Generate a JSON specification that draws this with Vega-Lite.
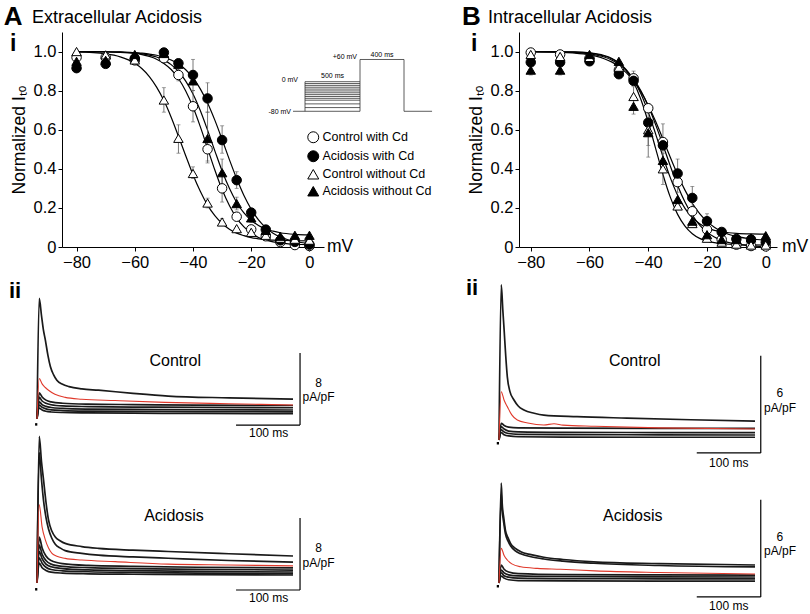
{
  "$schema": "https://vega.github.io/schema/vega-lite/v6.json",
  "padding": {"left": 3, "top": 3, "right": 0, "bottom": 0},
  "config": {
    "font": "Liberation Sans",
    "view": {"stroke": null},
    "axis": {"domainColor": "black", "tickColor": "black", "labelColor": "black", "titleColor": "black", "domainWidth": 1, "tickWidth": 1, "grid": false, "labelFont": "Liberation Sans", "titleFont": "Liberation Sans"},
    "text": {"color": "black", "font": "Liberation Sans"}
  },
  "datasets": {
    "curvesA": [
      {"v":-80,"c1":1.0,"c2":1.0,"c3":0.998,"c4":1.0},
      {"v":-70,"c1":0.998,"c2":0.999,"c3":0.988,"c4":0.999},
      {"v":-65,"c1":0.996,"c2":0.998,"c3":0.973,"c4":0.997},
      {"v":-60,"c1":0.990,"c2":0.994,"c3":0.940,"c4":0.993},
      {"v":-57.5,"c1":0.984,"c2":0.992,"c3":0.912,"c4":0.988},
      {"v":-55,"c1":0.975,"c2":0.987,"c3":0.872,"c4":0.982},
      {"v":-52.5,"c1":0.961,"c2":0.981,"c3":0.818,"c4":0.972},
      {"v":-50,"c1":0.939,"c2":0.971,"c3":0.749,"c4":0.956},
      {"v":-47.5,"c1":0.908,"c2":0.957,"c3":0.664,"c4":0.933},
      {"v":-45,"c1":0.862,"c2":0.937,"c3":0.567,"c4":0.898},
      {"v":-42.5,"c1":0.798,"c2":0.907,"c3":0.467,"c4":0.849},
      {"v":-40,"c1":0.716,"c2":0.866,"c3":0.370,"c4":0.783},
      {"v":-37.5,"c1":0.616,"c2":0.809,"c3":0.285,"c4":0.698},
      {"v":-35,"c1":0.505,"c2":0.737,"c3":0.214,"c4":0.598},
      {"v":-32.5,"c1":0.394,"c2":0.649,"c3":0.160,"c4":0.492},
      {"v":-30,"c1":0.294,"c2":0.550,"c3":0.120,"c4":0.389},
      {"v":-27.5,"c1":0.212,"c2":0.447,"c3":0.091,"c4":0.300},
      {"v":-25,"c1":0.148,"c2":0.350,"c3":0.071,"c4":0.228},
      {"v":-22.5,"c1":0.103,"c2":0.263,"c3":0.058,"c4":0.174},
      {"v":-20,"c1":0.071,"c2":0.193,"c3":0.048,"c4":0.136},
      {"v":-17.5,"c1":0.049,"c2":0.139,"c3":0.042,"c4":0.110},
      {"v":-15,"c1":0.035,"c2":0.099,"c3":0.038,"c4":0.092},
      {"v":-12.5,"c1":0.026,"c2":0.070,"c3":0.035,"c4":0.081},
      {"v":-10,"c1":0.020,"c2":0.051,"c3":0.034,"c4":0.073},
      {"v":-5,"c1":0.014,"c2":0.028,"c3":0.032,"c4":0.065},
      {"v":0,"c1":0.012,"c2":0.018,"c3":0.031,"c4":0.062}
    ],
    "curvesB": [
      {"v":-80,"c1":1.0,"c2":1.0,"c3":1.0,"c4":1.0},
      {"v":-70,"c1":0.998,"c2":0.996,"c3":0.999,"c4":0.999},
      {"v":-65,"c1":0.995,"c2":0.992,"c3":0.998,"c4":0.997},
      {"v":-60,"c1":0.988,"c2":0.983,"c3":0.993,"c4":0.992},
      {"v":-57.5,"c1":0.981,"c2":0.975,"c3":0.988,"c4":0.986},
      {"v":-55,"c1":0.972,"c2":0.963,"c3":0.980,"c4":0.977},
      {"v":-52.5,"c1":0.957,"c2":0.947,"c3":0.966,"c4":0.963},
      {"v":-50,"c1":0.935,"c2":0.924,"c3":0.942,"c4":0.941},
      {"v":-47.5,"c1":0.904,"c2":0.892,"c3":0.903,"c4":0.907},
      {"v":-45,"c1":0.859,"c2":0.849,"c3":0.843,"c4":0.856},
      {"v":-42.5,"c1":0.799,"c2":0.794,"c3":0.755,"c4":0.784},
      {"v":-40,"c1":0.721,"c2":0.724,"c3":0.639,"c4":0.690},
      {"v":-37.5,"c1":0.626,"c2":0.643,"c3":0.505,"c4":0.579},
      {"v":-35,"c1":0.522,"c2":0.552,"c3":0.371,"c4":0.463},
      {"v":-32.5,"c1":0.415,"c2":0.459,"c3":0.255,"c4":0.355},
      {"v":-30,"c1":0.315,"c2":0.370,"c3":0.167,"c4":0.265},
      {"v":-27.5,"c1":0.230,"c2":0.291,"c3":0.107,"c4":0.198},
      {"v":-25,"c1":0.163,"c2":0.224,"c3":0.068,"c4":0.150},
      {"v":-22.5,"c1":0.112,"c2":0.171,"c3":0.044,"c4":0.119},
      {"v":-20,"c1":0.076,"c2":0.131,"c3":0.030,"c4":0.098},
      {"v":-17.5,"c1":0.051,"c2":0.101,"c3":0.022,"c4":0.085},
      {"v":-15,"c1":0.034,"c2":0.080,"c3":0.017,"c4":0.078},
      {"v":-12.5,"c1":0.022,"c2":0.064,"c3":0.014,"c4":0.073},
      {"v":-10,"c1":0.014,"c2":0.054,"c3":0.012,"c4":0.070},
      {"v":-5,"c1":0.006,"c2":0.041,"c3":0.011,"c4":0.067},
      {"v":0,"c1":0.003,"c2":0.035,"c3":0.010,"c4":0.066}
    ],
    "ptsA": [
      {"v":-80,"Control with Cd":0.97,"Acidosis with Cd":0.915,"Control without Cd":1.0,"Acidosis without Cd":0.95},
      {"v":-70,"Control with Cd":0.97,"Acidosis with Cd":0.937,"Control without Cd":0.983,"Acidosis without Cd":0.955},
      {"v":-60,"Control with Cd":0.955,"Acidosis with Cd":0.965,"Control without Cd":0.957,"Acidosis without Cd":0.985},
      {"v":-50,"Control with Cd":0.966,"Acidosis with Cd":0.995,"Control without Cd":0.752,"Acidosis without Cd":0.99},
      {"v":-45,"Control with Cd":0.88,"Acidosis with Cd":0.94,"Control without Cd":0.556,"Acidosis without Cd":0.935},
      {"v":-40,"Control with Cd":0.72,"Acidosis with Cd":0.88,"Control without Cd":0.376,"Acidosis without Cd":0.85},
      {"v":-35,"Control with Cd":0.50,"Acidosis with Cd":0.76,"Control without Cd":0.225,"Acidosis without Cd":0.555},
      {"v":-30,"Control with Cd":0.30,"Acidosis with Cd":0.547,"Control without Cd":0.128,"Acidosis without Cd":0.38},
      {"v":-25,"Control with Cd":0.155,"Acidosis with Cd":0.342,"Control without Cd":0.094,"Acidosis without Cd":0.222},
      {"v":-20,"Control with Cd":0.09,"Acidosis with Cd":0.176,"Control without Cd":0.075,"Acidosis without Cd":0.149},
      {"v":-15,"Control with Cd":0.055,"Acidosis with Cd":0.089,"Control without Cd":0.06,"Acidosis without Cd":0.085},
      {"v":-10,"Control with Cd":0.025,"Acidosis with Cd":0.034,"Control without Cd":0.045,"Acidosis without Cd":0.055},
      {"v":-5,"Control with Cd":0.01,"Acidosis with Cd":0.026,"Control without Cd":0.04,"Acidosis without Cd":0.06},
      {"v":0,"Control with Cd":0.005,"Acidosis with Cd":0.012,"Control without Cd":0.035,"Acidosis without Cd":0.06}
    ],
    "ptsB": [
      {"v":-80,"Control with Cd":0.995,"Acidosis with Cd":0.945,"Control without Cd":0.985,"Acidosis without Cd":0.905},
      {"v":-70,"Control with Cd":0.985,"Acidosis with Cd":0.945,"Control without Cd":0.975,"Acidosis without Cd":0.905},
      {"v":-60,"Control with Cd":0.965,"Acidosis with Cd":0.95,"Control without Cd":0.97,"Acidosis without Cd":0.985},
      {"v":-50,"Control with Cd":0.905,"Acidosis with Cd":0.884,"Control without Cd":0.92,"Acidosis without Cd":0.95},
      {"v":-45,"Control with Cd":0.863,"Acidosis with Cd":0.85,"Control without Cd":0.77,"Acidosis without Cd":0.72},
      {"v":-40,"Control with Cd":0.71,"Acidosis with Cd":0.636,"Control without Cd":0.60,"Acidosis without Cd":0.585},
      {"v":-35,"Control with Cd":0.537,"Acidosis with Cd":0.52,"Control without Cd":0.40,"Acidosis without Cd":0.443},
      {"v":-30,"Control with Cd":0.332,"Acidosis with Cd":0.376,"Control without Cd":0.21,"Acidosis without Cd":0.243},
      {"v":-25,"Control with Cd":0.183,"Acidosis with Cd":0.251,"Control without Cd":0.12,"Acidosis without Cd":0.132},
      {"v":-20,"Control with Cd":0.089,"Acidosis with Cd":0.132,"Control without Cd":0.045,"Acidosis without Cd":0.063},
      {"v":-15,"Control with Cd":0.038,"Acidosis with Cd":0.077,"Control without Cd":0.025,"Acidosis without Cd":0.038},
      {"v":-10,"Control with Cd":0.012,"Acidosis with Cd":0.041,"Control without Cd":0.015,"Acidosis without Cd":0.038},
      {"v":-5,"Control with Cd":0.005,"Acidosis with Cd":0.038,"Control without Cd":0.01,"Acidosis without Cd":0.046},
      {"v":0,"Control with Cd":0.003,"Acidosis with Cd":0.024,"Control without Cd":0.01,"Acidosis without Cd":0.058}
    ],
    "errA": [
      {"v":-60,"lo":0.94,"hi":0.975},
      {"v":-50,"lo":0.69,"hi":0.815},
      {"v":-45,"lo":0.48,"hi":0.625},
      {"v":-40,"lo":0.35,"hi":0.41},
      {"v":-35,"lo":0.20,"hi":0.25},
      {"v":-30,"lo":0.11,"hi":0.145},
      {"v":-45,"lo":0.85,"hi":0.91},
      {"v":-40,"lo":0.64,"hi":0.80},
      {"v":-35,"lo":0.44,"hi":0.56},
      {"v":-30,"lo":0.23,"hi":0.37},
      {"v":-25,"lo":0.135,"hi":0.175},
      {"v":-40,"lo":0.80,"hi":0.96},
      {"v":-35,"lo":0.69,"hi":0.84},
      {"v":-30,"lo":0.48,"hi":0.62},
      {"v":-25,"lo":0.30,"hi":0.385},
      {"v":-20,"lo":0.16,"hi":0.195},
      {"v":-35,"lo":0.43,"hi":0.69},
      {"v":-30,"lo":0.31,"hi":0.45},
      {"v":-25,"lo":0.19,"hi":0.255},
      {"v":-20,"lo":0.125,"hi":0.17}
    ],
    "errB": [
      {"v":-45,"lo":0.83,"hi":0.90},
      {"v":-35,"lo":0.45,"hi":0.63},
      {"v":-30,"lo":0.28,"hi":0.38},
      {"v":-40,"lo":0.46,"hi":0.70},
      {"v":-30,"lo":0.31,"hi":0.45},
      {"v":-25,"lo":0.19,"hi":0.31},
      {"v":-20,"lo":0.10,"hi":0.17},
      {"v":-45,"lo":0.72,"hi":0.82},
      {"v":-35,"lo":0.32,"hi":0.48},
      {"v":-80,"lo":0.88,"hi":0.93},
      {"v":-70,"lo":0.88,"hi":0.93},
      {"v":-45,"lo":0.68,"hi":0.76},
      {"v":-40,"lo":0.52,"hi":0.65}
    ],
    "proto": [
      {"t0":-109,"t1":0,"v0":-80,"v1":-80},
      {"t0":0,"t1":0,"v0":-80,"v1":0},
      {"t0":0,"t1":500,"v0":-80,"v1":-80},
      {"t0":0,"t1":500,"v0":-70,"v1":-70},
      {"t0":0,"t1":500,"v0":-60,"v1":-60},
      {"t0":0,"t1":500,"v0":-50,"v1":-50},
      {"t0":0,"t1":500,"v0":-45,"v1":-45},
      {"t0":0,"t1":500,"v0":-40,"v1":-40},
      {"t0":0,"t1":500,"v0":-35,"v1":-35},
      {"t0":0,"t1":500,"v0":-30,"v1":-30},
      {"t0":0,"t1":500,"v0":-25,"v1":-25},
      {"t0":0,"t1":500,"v0":-20,"v1":-20},
      {"t0":0,"t1":500,"v0":-15,"v1":-15},
      {"t0":0,"t1":500,"v0":-10,"v1":-10},
      {"t0":0,"t1":500,"v0":-5,"v1":-5},
      {"t0":0,"t1":500,"v0":0,"v1":0},
      {"t0":500,"t1":500,"v0":-80,"v1":60},
      {"t0":500,"t1":900,"v0":60,"v1":60},
      {"t0":900,"t1":900,"v0":60,"v1":-80},
      {"t0":900,"t1":1155,"v0":-80,"v1":-80}
    ],
    "actrl": [
      {"s":"T1","t":0,"i":0},{"s":"T1","t":3.5,"i":13.4},{"s":"T1","t":7,"i":11.5},{"s":"T1","t":10,"i":9.9},{"s":"T1","t":13,"i":8.8},{"s":"T1","t":17,"i":7.1},{"s":"T1","t":21,"i":5.8},{"s":"T1","t":26,"i":4.9},{"s":"T1","t":31,"i":4.3},{"s":"T1","t":40,"i":3.85},{"s":"T1","t":50,"i":3.6},{"s":"T1","t":70,"i":3.35},{"s":"T1","t":96,"i":3.2},{"s":"T1","t":150,"i":2.85},{"s":"T1","t":205,"i":2.55},{"s":"T1","t":300,"i":2.35},{"s":"T1","t":400,"i":2.2},
      {"s":"R","t":0,"i":0},{"s":"R","t":3.5,"i":4.5},{"s":"R","t":8,"i":3.9},{"s":"R","t":13,"i":3.5},{"s":"R","t":18,"i":3.2},{"s":"R","t":28,"i":2.75},{"s":"R","t":44,"i":2.4},{"s":"R","t":70,"i":2.2},{"s":"R","t":122,"i":2.05},{"s":"R","t":200,"i":1.85},{"s":"R","t":300,"i":1.7},{"s":"R","t":400,"i":1.55},
      {"s":"S1","t":0,"i":0},{"s":"S1","t":3.5,"i":2.9},{"s":"S1","t":8,"i":2.45},{"s":"S1","t":14,"i":2.1},{"s":"S1","t":22,"i":1.9},{"s":"S1","t":40,"i":1.75},{"s":"S1","t":80,"i":1.65},{"s":"S1","t":150,"i":1.6},{"s":"S1","t":250,"i":1.55},{"s":"S1","t":400,"i":1.5},
      {"s":"S2","t":0,"i":0},{"s":"S2","t":3.5,"i":2.4},{"s":"S2","t":8,"i":2.0},{"s":"S2","t":14,"i":1.75},{"s":"S2","t":22,"i":1.58},{"s":"S2","t":40,"i":1.45},{"s":"S2","t":80,"i":1.38},{"s":"S2","t":150,"i":1.33},{"s":"S2","t":250,"i":1.29},{"s":"S2","t":400,"i":1.25},
      {"s":"S3","t":0,"i":0},{"s":"S3","t":3.5,"i":1.9},{"s":"S3","t":8,"i":1.6},{"s":"S3","t":14,"i":1.4},{"s":"S3","t":22,"i":1.28},{"s":"S3","t":40,"i":1.18},{"s":"S3","t":80,"i":1.1},{"s":"S3","t":150,"i":1.06},{"s":"S3","t":250,"i":1.03},{"s":"S3","t":400,"i":1.0},
      {"s":"S4","t":0,"i":0},{"s":"S4","t":3.5,"i":1.55},{"s":"S4","t":8,"i":1.3},{"s":"S4","t":14,"i":1.12},{"s":"S4","t":22,"i":1.02},{"s":"S4","t":40,"i":0.94},{"s":"S4","t":80,"i":0.88},{"s":"S4","t":150,"i":0.85},{"s":"S4","t":250,"i":0.82},{"s":"S4","t":400,"i":0.8},
      {"s":"S5","t":0,"i":0},{"s":"S5","t":3.5,"i":1.2},{"s":"S5","t":8,"i":1.0},{"s":"S5","t":14,"i":0.86},{"s":"S5","t":22,"i":0.78},{"s":"S5","t":40,"i":0.72},{"s":"S5","t":80,"i":0.68},{"s":"S5","t":150,"i":0.65},{"s":"S5","t":250,"i":0.62},{"s":"S5","t":400,"i":0.6}
    ],
    "aacid": [
      {"s":"T1","t":0,"i":0},{"s":"T1","t":3.5,"i":16.3},{"s":"T1","t":7,"i":13.5},{"s":"T1","t":10,"i":11.6},{"s":"T1","t":14,"i":9.0},{"s":"T1","t":18,"i":7.0},{"s":"T1","t":23,"i":5.8},{"s":"T1","t":28.6,"i":5.1},{"s":"T1","t":36,"i":4.7},{"s":"T1","t":44,"i":4.4},{"s":"T1","t":70,"i":4.05},{"s":"T1","t":96,"i":3.85},{"s":"T1","t":150,"i":3.65},{"s":"T1","t":205,"i":3.5},{"s":"T1","t":300,"i":3.25},{"s":"T1","t":400,"i":3.0},
      {"s":"T2","t":0,"i":0},{"s":"T2","t":3.5,"i":14.5},{"s":"T2","t":7,"i":11.5},{"s":"T2","t":10,"i":9.3},{"s":"T2","t":14,"i":7.3},{"s":"T2","t":18,"i":6.0},{"s":"T2","t":23,"i":5.0},{"s":"T2","t":28.6,"i":4.3},{"s":"T2","t":36,"i":3.9},{"s":"T2","t":44,"i":3.6},{"s":"T2","t":70,"i":3.3},{"s":"T2","t":96,"i":3.1},{"s":"T2","t":150,"i":2.9},{"s":"T2","t":205,"i":2.75},{"s":"T2","t":300,"i":2.5},{"s":"T2","t":400,"i":2.33},
      {"s":"R","t":0,"i":0},{"s":"R","t":3.5,"i":8.7},{"s":"R","t":8,"i":6.2},{"s":"R","t":13,"i":4.8},{"s":"R","t":18,"i":3.9},{"s":"R","t":23.4,"i":3.3},{"s":"R","t":30,"i":3.0},{"s":"R","t":44,"i":2.74},{"s":"R","t":70,"i":2.55},{"s":"R","t":122,"i":2.37},{"s":"R","t":205,"i":2.1},{"s":"R","t":300,"i":2.0},{"s":"R","t":400,"i":1.9},
      {"s":"S1","t":0,"i":0},{"s":"S1","t":3.5,"i":5.1},{"s":"S1","t":8,"i":3.9},{"s":"S1","t":14,"i":3.0},{"s":"S1","t":22,"i":2.5},{"s":"S1","t":40,"i":2.15},{"s":"S1","t":80,"i":1.95},{"s":"S1","t":150,"i":1.85},{"s":"S1","t":250,"i":1.75},{"s":"S1","t":400,"i":1.67},
      {"s":"S2","t":0,"i":0},{"s":"S2","t":3.5,"i":4.2},{"s":"S2","t":8,"i":3.2},{"s":"S2","t":14,"i":2.5},{"s":"S2","t":22,"i":2.1},{"s":"S2","t":40,"i":1.85},{"s":"S2","t":80,"i":1.7},{"s":"S2","t":150,"i":1.6},{"s":"S2","t":250,"i":1.52},{"s":"S2","t":400,"i":1.44},
      {"s":"S3","t":0,"i":0},{"s":"S3","t":3.5,"i":3.5},{"s":"S3","t":8,"i":2.7},{"s":"S3","t":14,"i":2.1},{"s":"S3","t":22,"i":1.8},{"s":"S3","t":40,"i":1.6},{"s":"S3","t":80,"i":1.45},{"s":"S3","t":150,"i":1.37},{"s":"S3","t":250,"i":1.3},{"s":"S3","t":400,"i":1.22},
      {"s":"S4","t":0,"i":0},{"s":"S4","t":3.5,"i":2.8},{"s":"S4","t":8,"i":2.2},{"s":"S4","t":14,"i":1.75},{"s":"S4","t":22,"i":1.5},{"s":"S4","t":40,"i":1.35},{"s":"S4","t":80,"i":1.25},{"s":"S4","t":150,"i":1.17},{"s":"S4","t":250,"i":1.1},{"s":"S4","t":400,"i":1.05},
      {"s":"S5","t":0,"i":0},{"s":"S5","t":3.5,"i":2.2},{"s":"S5","t":8,"i":1.7},{"s":"S5","t":14,"i":1.4},{"s":"S5","t":22,"i":1.2},{"s":"S5","t":40,"i":1.1},{"s":"S5","t":80,"i":1.02},{"s":"S5","t":150,"i":0.97},{"s":"S5","t":250,"i":0.93},{"s":"S5","t":400,"i":0.89}
    ],
    "bctrl": [
      {"s":"T1","t":0,"i":0},{"s":"T1","t":3.5,"i":9.57},{"s":"T1","t":6,"i":8.0},{"s":"T1","t":8,"i":6.8},{"s":"T1","t":10.5,"i":5.2},{"s":"T1","t":13,"i":3.9},{"s":"T1","t":17,"i":3.0},{"s":"T1","t":23.4,"i":2.47},{"s":"T1","t":30,"i":2.1},{"s":"T1","t":39,"i":1.85},{"s":"T1","t":55,"i":1.65},{"s":"T1","t":70,"i":1.54},{"s":"T1","t":122,"i":1.44},{"s":"T1","t":200,"i":1.35},{"s":"T1","t":300,"i":1.25},{"s":"T1","t":400,"i":1.17},
      {"s":"R","t":0,"i":0},{"s":"R","t":3.5,"i":2.98},{"s":"R","t":8,"i":2.45},{"s":"R","t":13,"i":2.06},{"s":"R","t":20,"i":1.55},{"s":"R","t":28.6,"i":1.23},{"s":"R","t":45,"i":1.05},{"s":"R","t":70,"i":0.93},{"s":"R","t":86,"i":1.0},{"s":"R","t":100,"i":0.92},{"s":"R","t":150,"i":0.85},{"s":"R","t":250,"i":0.75},{"s":"R","t":400,"i":0.68},
      {"s":"S1","t":0,"i":0},{"s":"S1","t":3.5,"i":1.03},{"s":"S1","t":8,"i":0.9},{"s":"S1","t":15,"i":0.8},{"s":"S1","t":30,"i":0.75},{"s":"S1","t":100,"i":0.73},{"s":"S1","t":250,"i":0.72},{"s":"S1","t":400,"i":0.72},
      {"s":"S2","t":0,"i":0},{"s":"S2","t":3.5,"i":0.82},{"s":"S2","t":8,"i":0.68},{"s":"S2","t":15,"i":0.55},{"s":"S2","t":30,"i":0.5},{"s":"S2","t":100,"i":0.47},{"s":"S2","t":250,"i":0.46},{"s":"S2","t":400,"i":0.45},
      {"s":"S3","t":0,"i":0},{"s":"S3","t":3.5,"i":0.62},{"s":"S3","t":8,"i":0.5},{"s":"S3","t":15,"i":0.4},{"s":"S3","t":30,"i":0.35},{"s":"S3","t":100,"i":0.33},{"s":"S3","t":250,"i":0.32},{"s":"S3","t":400,"i":0.31},
      {"s":"S4","t":0,"i":0},{"s":"S4","t":3.5,"i":0.45},{"s":"S4","t":8,"i":0.33},{"s":"S4","t":15,"i":0.25},{"s":"S4","t":30,"i":0.2},{"s":"S4","t":100,"i":0.18},{"s":"S4","t":250,"i":0.17},{"s":"S4","t":400,"i":0.17}
    ],
    "bacid": [
      {"s":"T1","t":0,"i":0},{"s":"T1","t":3.5,"i":6.17},{"s":"T1","t":5,"i":4.9},{"s":"T1","t":7.5,"i":4.0},{"s":"T1","t":10,"i":3.27},{"s":"T1","t":14,"i":2.8},{"s":"T1","t":18,"i":2.45},{"s":"T1","t":25,"i":2.15},{"s":"T1","t":34,"i":1.93},{"s":"T1","t":50,"i":1.75},{"s":"T1","t":70,"i":1.59},{"s":"T1","t":100,"i":1.45},{"s":"T1","t":148,"i":1.31},{"s":"T1","t":250,"i":1.2},{"s":"T1","t":400,"i":1.11},
      {"s":"T2","t":0,"i":0},{"s":"T2","t":3.5,"i":5.5},{"s":"T2","t":5,"i":4.5},{"s":"T2","t":7.5,"i":3.7},{"s":"T2","t":10,"i":3.05},{"s":"T2","t":14,"i":2.6},{"s":"T2","t":18,"i":2.3},{"s":"T2","t":25,"i":2.0},{"s":"T2","t":34,"i":1.8},{"s":"T2","t":50,"i":1.62},{"s":"T2","t":70,"i":1.48},{"s":"T2","t":100,"i":1.35},{"s":"T2","t":148,"i":1.22},{"s":"T2","t":250,"i":1.08},{"s":"T2","t":400,"i":0.99},
      {"s":"R","t":0,"i":0},{"s":"R","t":3.5,"i":2.14},{"s":"R","t":8,"i":1.7},{"s":"R","t":13,"i":1.42},{"s":"R","t":20,"i":1.18},{"s":"R","t":34,"i":1.0},{"s":"R","t":60,"i":0.9},{"s":"R","t":96,"i":0.85},{"s":"R","t":150,"i":0.75},{"s":"R","t":250,"i":0.65},{"s":"R","t":400,"i":0.56},
      {"s":"S1","t":0,"i":0},{"s":"S1","t":3.5,"i":1.11},{"s":"S1","t":8,"i":0.85},{"s":"S1","t":15,"i":0.68},{"s":"S1","t":30,"i":0.58},{"s":"S1","t":100,"i":0.52},{"s":"S1","t":250,"i":0.5},{"s":"S1","t":400,"i":0.49},
      {"s":"S2","t":0,"i":0},{"s":"S2","t":3.5,"i":0.8},{"s":"S2","t":8,"i":0.62},{"s":"S2","t":15,"i":0.5},{"s":"S2","t":30,"i":0.44},{"s":"S2","t":100,"i":0.4},{"s":"S2","t":250,"i":0.38},{"s":"S2","t":400,"i":0.37},
      {"s":"S3","t":0,"i":0},{"s":"S3","t":3.5,"i":0.62},{"s":"S3","t":8,"i":0.45},{"s":"S3","t":15,"i":0.36},{"s":"S3","t":30,"i":0.3},{"s":"S3","t":100,"i":0.27},{"s":"S3","t":250,"i":0.26},{"s":"S3","t":400,"i":0.25},
      {"s":"S4","t":0,"i":0},{"s":"S4","t":3.5,"i":0.43},{"s":"S4","t":8,"i":0.3},{"s":"S4","t":15,"i":0.2},{"s":"S4","t":30,"i":0.15},{"s":"S4","t":100,"i":0.13},{"s":"S4","t":250,"i":0.12},{"s":"S4","t":400,"i":0.12}
    ]
  },
  "columns": 2,
  "spacing": {"row": 11, "column": 195},
  "bounds": "flush",
  "concat": [
    {
      "width": 262, "height": 215,
      "resolve": {"scale": {"x": "independent", "y": "independent"}},
      "layer": [
        {
          "layer": [
            {
              "data": {"name": "curvesA"},
              "transform": [{"fold": ["c1","c2","c3","c4"], "as": ["curve","f"]}],
              "mark": {"type": "line", "interpolate": "monotone", "color": "black", "strokeWidth": 1.2},
              "encoding": {
                "x": {"field": "v", "type": "quantitative", "scale": {"domain": [-85, 5], "nice": false, "zero": false},
                      "axis": {"values": [-80,-60,-40,-20,0], "title": null, "tickSize": 4, "labelFontSize": 16.5, "labelPadding": 3, "labelFlush": false, "labelOverlap": false}},
                "y": {"field": "f", "type": "quantitative", "scale": {"domain": [0, 1.1], "nice": false, "zero": false},
                      "axis": {"values": [0,0.2,0.4,0.6,0.8,1], "labelExpr": "datum.value == 0 ? '0' : format(datum.value, '.1f')", "title": "Normalized Iₜₒ", "titleFontSize": 17.5, "titleFontWeight": "normal", "titlePadding": 5, "tickSize": 4, "labelFontSize": 16.5, "labelPadding": 2, "labelFlush": false}},
                "detail": {"field": "curve", "type": "nominal"}
              }
            },
            {
              "data": {"name": "errA"},
              "mark": {"type": "rule", "color": "#555", "strokeWidth": 0.8},
              "encoding": {"x": {"field": "v", "type": "quantitative"}, "y": {"field": "lo", "type": "quantitative"}, "y2": {"field": "hi"}}
            },
            {
              "data": {"name": "errA"},
              "transform": [{"fold": ["lo","hi"], "as": ["end","yy"]}],
              "mark": {"type": "tick", "orient": "horizontal", "color": "#555", "size": 4, "thickness": 0.8},
              "encoding": {"x": {"field": "v", "type": "quantitative"}, "y": {"field": "yy", "type": "quantitative"}}
            },
            {
              "data": {"name": "ptsA"},
              "transform": [{"fold": ["Control with Cd","Acidosis with Cd","Control without Cd","Acidosis without Cd"], "as": ["series","f"]}],
              "mark": {"type": "point", "filled": true, "strokeWidth": 1, "size": 90, "opacity": 1},
              "encoding": {
                "x": {"field": "v", "type": "quantitative"},
                "y": {"field": "f", "type": "quantitative"},
                "shape": {"field": "series", "type": "nominal",
                  "scale": {"domain": ["Control with Cd","Acidosis with Cd","Control without Cd","Acidosis without Cd"], "range": ["circle","circle","triangle-up","triangle-up"]},
                  "legend": {"orient": "none", "legendX": 245, "legendY": 99, "title": null, "labelFontSize": 12.5, "labelColor": "black", "labelFont": "Liberation Sans", "symbolSize": 120, "symbolStrokeWidth": 1, "symbolOpacity": 1, "rowPadding": 3, "labelOffset": 3, "padding": 0}},
                "fill": {"field": "series", "type": "nominal",
                  "scale": {"domain": ["Control with Cd","Acidosis with Cd","Control without Cd","Acidosis without Cd"], "range": ["white","black","white","black"]},
                  "legend": {"orient": "none", "legendX": 245, "legendY": 99, "title": null, "labelFontSize": 12.5, "labelColor": "black", "labelFont": "Liberation Sans", "symbolSize": 120, "symbolStrokeWidth": 1, "symbolOpacity": 1, "rowPadding": 3, "labelOffset": 3, "padding": 0}},
                "stroke": {"field": "series", "type": "nominal",
                  "scale": {"domain": ["Control with Cd","Acidosis with Cd","Control without Cd","Acidosis without Cd"], "range": ["black","black","black","black"]},
                  "legend": {"orient": "none", "legendX": 245, "legendY": 99, "title": null, "labelFontSize": 12.5, "labelColor": "black", "labelFont": "Liberation Sans", "symbolSize": 120, "symbolStrokeWidth": 1, "symbolOpacity": 1, "rowPadding": 3, "labelOffset": 3, "padding": 0}}
              }
            },
            {
              "data": {"values": [{"label": "A"}]},
              "mark": {"type": "text", "fontSize": 26, "fontWeight": "bold", "align": "left", "baseline": "alphabetic"},
              "encoding": {"x": {"datum": -105}, "y": {"datum": 1.137}, "text": {"field": "label"}}
            },
            {
              "data": {"values": [{"label": "Extracellular Acidosis"}]},
              "mark": {"type": "text", "fontSize": 18, "align": "left", "baseline": "alphabetic"},
              "encoding": {"x": {"datum": -95.3}, "y": {"datum": 1.146}, "text": {"field": "label"}}
            },
            {
              "data": {"values": [{"label": "i"}]},
              "mark": {"type": "text", "fontSize": 23, "fontWeight": "bold", "align": "left", "baseline": "alphabetic"},
              "encoding": {"x": {"datum": -102.9}, "y": {"datum": 1.005}, "text": {"field": "label"}}
            },
            {
              "data": {"values": [{"label": "mV"}]},
              "mark": {"type": "text", "fontSize": 17.5, "align": "left", "baseline": "middle", "dx": 3},
              "encoding": {"x": {"datum": 5}, "y": {"datum": 0}, "text": {"field": "label"}}
            }
          ]
        },
        {
          "layer": [
            {
              "data": {"name": "proto"},
              "mark": {"type": "rule", "color": "#333", "strokeWidth": 0.8},
              "encoding": {
                "x": {"field": "t0", "type": "quantitative", "scale": {"domain": [-2209.1, 172.7], "nice": false, "zero": false}, "axis": null},
                "x2": {"field": "t1"},
                "y": {"field": "v0", "type": "quantitative", "scale": {"domain": [-446.8, 134.3], "nice": false, "zero": false}, "axis": null},
                "y2": {"field": "v1"}
              }
            },
            {
              "data": {"values": [{"label": "+60 mV", "t": 500, "v": 60}]},
              "mark": {"type": "text", "fontSize": 7, "align": "right", "baseline": "alphabetic", "dx": -3},
              "encoding": {"x": {"field": "t", "type": "quantitative"}, "y": {"field": "v", "type": "quantitative"}, "text": {"field": "label"}}
            },
            {
              "data": {"values": [{"label": "400 ms", "t": 700, "v": 60}]},
              "mark": {"type": "text", "fontSize": 7, "align": "center", "baseline": "alphabetic", "dy": -2},
              "encoding": {"x": {"field": "t", "type": "quantitative"}, "y": {"field": "v", "type": "quantitative"}, "text": {"field": "label"}}
            },
            {
              "data": {"values": [{"label": "500 ms", "t": 250, "v": 0}]},
              "mark": {"type": "text", "fontSize": 7, "align": "center", "baseline": "alphabetic", "dy": -4},
              "encoding": {"x": {"field": "t", "type": "quantitative"}, "y": {"field": "v", "type": "quantitative"}, "text": {"field": "label"}}
            },
            {
              "data": {"values": [{"label": "0 mV", "t": 0, "v": 0}]},
              "mark": {"type": "text", "fontSize": 7, "align": "right", "baseline": "alphabetic", "dx": -7},
              "encoding": {"x": {"field": "t", "type": "quantitative"}, "y": {"field": "v", "type": "quantitative"}, "text": {"field": "label"}}
            },
            {
              "data": {"values": [{"label": "-80 mV", "t": -109, "v": -80}]},
              "mark": {"type": "text", "fontSize": 7, "align": "right", "baseline": "alphabetic", "dx": -2, "dy": 2.5},
              "encoding": {"x": {"field": "t", "type": "quantitative"}, "y": {"field": "v", "type": "quantitative"}, "text": {"field": "label"}}
            }
          ]
        }
      ]
    },
    {
      "width": 258, "height": 215,
      "layer": [
        {
          "data": {"name": "curvesB"},
          "transform": [{"fold": ["c1","c2","c3","c4"], "as": ["curve","f"]}],
          "mark": {"type": "line", "interpolate": "monotone", "color": "black", "strokeWidth": 1.2},
          "encoding": {
            "x": {"field": "v", "type": "quantitative", "scale": {"domain": [-84, 3.83], "nice": false, "zero": false},
                  "axis": {"values": [-80,-60,-40,-20,0], "title": null, "tickSize": 4, "labelFontSize": 16.5, "labelPadding": 3, "labelFlush": false, "labelOverlap": false}},
            "y": {"field": "f", "type": "quantitative", "scale": {"domain": [0, 1.1], "nice": false, "zero": false},
                  "axis": {"values": [0,0.2,0.4,0.6,0.8,1], "labelExpr": "datum.value == 0 ? '0' : format(datum.value, '.1f')", "title": "Normalized Iₜₒ", "titleFontSize": 17.5, "titleFontWeight": "normal", "titlePadding": 5, "tickSize": 4, "labelFontSize": 16.5, "labelPadding": 2, "labelFlush": false}},
            "detail": {"field": "curve", "type": "nominal"}
          }
        },
        {
          "data": {"name": "errB"},
          "mark": {"type": "rule", "color": "#555", "strokeWidth": 0.8},
          "encoding": {"x": {"field": "v", "type": "quantitative"}, "y": {"field": "lo", "type": "quantitative"}, "y2": {"field": "hi"}}
        },
        {
          "data": {"name": "errB"},
          "transform": [{"fold": ["lo","hi"], "as": ["end","yy"]}],
          "mark": {"type": "tick", "orient": "horizontal", "color": "#555", "size": 4, "thickness": 0.8},
          "encoding": {"x": {"field": "v", "type": "quantitative"}, "y": {"field": "yy", "type": "quantitative"}}
        },
        {
          "data": {"name": "ptsB"},
          "transform": [{"fold": ["Control with Cd","Acidosis with Cd","Control without Cd","Acidosis without Cd"], "as": ["series","f"]}],
          "mark": {"type": "point", "filled": true, "stroke": "black", "strokeWidth": 1, "size": 90, "opacity": 1},
          "encoding": {
            "x": {"field": "v", "type": "quantitative"},
            "y": {"field": "f", "type": "quantitative"},
            "shape": {"field": "series", "type": "nominal",
              "scale": {"domain": ["Control with Cd","Acidosis with Cd","Control without Cd","Acidosis without Cd"], "range": ["circle","circle","triangle-up","triangle-up"]}, "legend": null},
            "fill": {"field": "series", "type": "nominal",
              "scale": {"domain": ["Control with Cd","Acidosis with Cd","Control without Cd","Acidosis without Cd"], "range": ["white","black","white","black"]}, "legend": null}
          }
        },
        {
          "data": {"values": [{"label": "B"}]},
          "mark": {"type": "text", "fontSize": 26, "fontWeight": "bold", "align": "left", "baseline": "alphabetic"},
          "encoding": {"x": {"datum": -103.4}, "y": {"datum": 1.137}, "text": {"field": "label"}}
        },
        {
          "data": {"values": [{"label": "Intracellular Acidosis"}]},
          "mark": {"type": "text", "fontSize": 18, "align": "left", "baseline": "alphabetic"},
          "encoding": {"x": {"datum": -94.55}, "y": {"datum": 1.146}, "text": {"field": "label"}}
        },
        {
          "data": {"values": [{"label": "i"}]},
          "mark": {"type": "text", "fontSize": 23, "fontWeight": "bold", "align": "left", "baseline": "alphabetic"},
          "encoding": {"x": {"datum": -100.3}, "y": {"datum": 1.005}, "text": {"field": "label"}}
        },
        {
          "data": {"values": [{"label": "mV"}]},
          "mark": {"type": "text", "fontSize": 17.5, "align": "left", "baseline": "middle", "dx": 5},
          "encoding": {"x": {"datum": 3.83}, "y": {"datum": 0}, "text": {"field": "label"}}
        }
      ]
    },
    {
      "width": 262, "height": 161,
      "layer": [
        {
          "data": {"name": "actrl"},
          "transform": [{"filter": "datum.s != 'R'"}],
          "mark": {"type": "line", "color": "#1a1a1a", "strokeWidth": 1.7, "interpolate": "monotone"},
          "encoding": {
            "x": {"field": "t", "type": "quantitative", "scale": {"domain": [39.0625, 448.4375], "nice": false, "zero": false}, "axis": null},
            "y": {"field": "i", "type": "quantitative", "scale": {"domain": [0, 17.89], "nice": false, "zero": false}, "axis": null},
            "detail": {"field": "s", "type": "nominal"}
          }
        },
        {
          "data": {"name": "actrl"},
          "transform": [{"filter": "datum.s == 'R'"}],
          "mark": {"type": "line", "color": "#e0392b", "strokeWidth": 1.1, "interpolate": "monotone"},
          "encoding": {"x": {"field": "t", "type": "quantitative"}, "y": {"field": "i", "type": "quantitative"}}
        },
        {
          "data": {"values": [{"label": "8 pA/pF"}]},
          "mark": {"type": "rule", "color": "black", "strokeWidth": 1.2},
          "encoding": {"x": {"datum": 411}, "y": {"datum": -0.67}, "y2": {"datum": 7.33}}
        },
        {
          "data": {"values": [{"label": "100 ms"}]},
          "mark": {"type": "rule", "color": "black", "strokeWidth": 1.2},
          "encoding": {"x": {"datum": 311}, "x2": {"datum": 411}, "y": {"datum": -0.67}}
        },
        {
          "data": {"values": [{"label": "artifact"}]},
          "mark": {"type": "rule", "color": "black", "strokeWidth": 2.5},
          "encoding": {"x": {"datum": -3}, "x2": {"datum": 0.5}, "y": {"datum": -0.6}}
        },
        {
          "data": {"values": [{"label": "Control", "t": 216, "i": 6.4}]},
          "mark": {"type": "text", "fontSize": 16, "align": "center", "baseline": "middle"},
          "encoding": {"x": {"field": "t", "type": "quantitative"}, "y": {"field": "i", "type": "quantitative"}, "text": {"field": "label"}}
        },
        {
          "data": {"values": [{"label": "8", "t": 440, "i": 4.0}, {"label": "pA/pF", "t": 440, "i": 2.4}, {"label": "100 ms", "t": 362, "i": -1.56}]},
          "mark": {"type": "text", "fontSize": 12, "align": "center", "baseline": "middle"},
          "encoding": {"x": {"field": "t", "type": "quantitative"}, "y": {"field": "i", "type": "quantitative"}, "text": {"field": "label"}}
        },
        {
          "data": {"values": [{"label": "ii", "t": -43.75, "i": 13.44}]},
          "mark": {"type": "text", "fontSize": 22, "fontWeight": "bold", "align": "left", "baseline": "alphabetic"},
          "encoding": {"x": {"field": "t", "type": "quantitative"}, "y": {"field": "i", "type": "quantitative"}, "text": {"field": "label"}}
        }
      ]
    },
    {
      "width": 258, "height": 182,
      "layer": [
        {
          "data": {"name": "bctrl"},
          "transform": [{"filter": "datum.s != 'R'"}],
          "mark": {"type": "line", "color": "#1a1a1a", "strokeWidth": 1.7, "interpolate": "monotone"},
          "encoding": {
            "x": {"field": "t", "type": "quantitative", "scale": {"domain": [31.25, 434.375], "nice": false, "zero": false}, "axis": null},
            "y": {"field": "i", "type": "quantitative", "scale": {"domain": [0, 11.235], "nice": false, "zero": false}, "axis": null},
            "detail": {"field": "s", "type": "nominal"}
          }
        },
        {
          "data": {"name": "bctrl"},
          "transform": [{"filter": "datum.s == 'R'"}],
          "mark": {"type": "line", "color": "#e0392b", "strokeWidth": 1.1, "interpolate": "monotone"},
          "encoding": {"x": {"field": "t", "type": "quantitative"}, "y": {"field": "i", "type": "quantitative"}}
        },
        {
          "data": {"values": [{"label": "6 pA/pF"}]},
          "mark": {"type": "rule", "color": "black", "strokeWidth": 1.2},
          "encoding": {"x": {"datum": 409}, "y": {"datum": -0.8}, "y2": {"datum": 5.2}}
        },
        {
          "data": {"values": [{"label": "100 ms"}]},
          "mark": {"type": "rule", "color": "black", "strokeWidth": 1.2},
          "encoding": {"x": {"datum": 309}, "x2": {"datum": 409}, "y": {"datum": -0.8}}
        },
        {
          "data": {"values": [{"label": "artifact"}]},
          "mark": {"type": "rule", "color": "black", "strokeWidth": 2.5},
          "encoding": {"x": {"datum": -3.5}, "x2": {"datum": 0}, "y": {"datum": -0.2}}
        },
        {
          "data": {"values": [{"label": "Control", "t": 212, "i": 4.9}]},
          "mark": {"type": "text", "fontSize": 16, "align": "center", "baseline": "middle"},
          "encoding": {"x": {"field": "t", "type": "quantitative"}, "y": {"field": "i", "type": "quantitative"}, "text": {"field": "label"}}
        },
        {
          "data": {"values": [{"label": "6", "t": 439, "i": 2.9}, {"label": "pA/pF", "t": 439, "i": 2.0}, {"label": "100 ms", "t": 359, "i": -1.42}]},
          "mark": {"type": "text", "fontSize": 12, "align": "center", "baseline": "middle"},
          "encoding": {"x": {"field": "t", "type": "quantitative"}, "y": {"field": "i", "type": "quantitative"}, "text": {"field": "label"}}
        },
        {
          "data": {"values": [{"label": "ii", "t": -51.6, "i": 8.95}]},
          "mark": {"type": "text", "fontSize": 22, "fontWeight": "bold", "align": "left", "baseline": "alphabetic"},
          "encoding": {"x": {"field": "t", "type": "quantitative"}, "y": {"field": "i", "type": "quantitative"}, "text": {"field": "label"}}
        }
      ]
    },
    {
      "width": 262, "height": 132,
      "layer": [
        {
          "data": {"name": "aacid"},
          "transform": [{"filter": "datum.s != 'R'"}],
          "mark": {"type": "line", "color": "#1a1a1a", "strokeWidth": 1.7, "interpolate": "monotone"},
          "encoding": {
            "x": {"field": "t", "type": "quantitative", "scale": {"domain": [39.0625, 448.4375], "nice": false, "zero": false}, "axis": null},
            "y": {"field": "i", "type": "quantitative", "scale": {"domain": [0, 14.667], "nice": false, "zero": false}, "axis": null},
            "detail": {"field": "s", "type": "nominal"}
          }
        },
        {
          "data": {"name": "aacid"},
          "transform": [{"filter": "datum.s == 'R'"}],
          "mark": {"type": "line", "color": "#e0392b", "strokeWidth": 1.1, "interpolate": "monotone"},
          "encoding": {"x": {"field": "t", "type": "quantitative"}, "y": {"field": "i", "type": "quantitative"}}
        },
        {
          "data": {"values": [{"label": "8 pA/pF"}]},
          "mark": {"type": "rule", "color": "black", "strokeWidth": 1.2},
          "encoding": {"x": {"datum": 411}, "y": {"datum": -0.78}, "y2": {"datum": 7.22}}
        },
        {
          "data": {"values": [{"label": "100 ms"}]},
          "mark": {"type": "rule", "color": "black", "strokeWidth": 1.2},
          "encoding": {"x": {"datum": 311}, "x2": {"datum": 411}, "y": {"datum": -0.78}}
        },
        {
          "data": {"values": [{"label": "artifact"}]},
          "mark": {"type": "rule", "color": "black", "strokeWidth": 2.5},
          "encoding": {"x": {"datum": -3}, "x2": {"datum": 0.5}, "y": {"datum": -0.7}}
        },
        {
          "data": {"values": [{"label": "Acidosis", "t": 214, "i": 7.4}]},
          "mark": {"type": "text", "fontSize": 16, "align": "center", "baseline": "middle"},
          "encoding": {"x": {"field": "t", "type": "quantitative"}, "y": {"field": "i", "type": "quantitative"}, "text": {"field": "label"}}
        },
        {
          "data": {"values": [{"label": "8", "t": 440, "i": 3.9}, {"label": "pA/pF", "t": 440, "i": 2.2}, {"label": "100 ms", "t": 362, "i": -1.67}]},
          "mark": {"type": "text", "fontSize": 12, "align": "center", "baseline": "middle"},
          "encoding": {"x": {"field": "t", "type": "quantitative"}, "y": {"field": "i", "type": "quantitative"}, "text": {"field": "label"}}
        }
      ]
    },
    {
      "width": 258, "height": 132,
      "layer": [
        {
          "data": {"name": "bacid"},
          "transform": [{"filter": "datum.s != 'R'"}],
          "mark": {"type": "line", "color": "#1a1a1a", "strokeWidth": 1.7, "interpolate": "monotone"},
          "encoding": {
            "x": {"field": "t", "type": "quantitative", "scale": {"domain": [31.25, 434.375], "nice": false, "zero": false}, "axis": null},
            "y": {"field": "i", "type": "quantitative", "scale": {"domain": [0, 8.148], "nice": false, "zero": false}, "axis": null},
            "detail": {"field": "s", "type": "nominal"}
          }
        },
        {
          "data": {"name": "bacid"},
          "transform": [{"filter": "datum.s == 'R'"}],
          "mark": {"type": "line", "color": "#e0392b", "strokeWidth": 1.1, "interpolate": "monotone"},
          "encoding": {"x": {"field": "t", "type": "quantitative"}, "y": {"field": "i", "type": "quantitative"}}
        },
        {
          "data": {"values": [{"label": "6 pA/pF"}]},
          "mark": {"type": "rule", "color": "black", "strokeWidth": 1.2},
          "encoding": {"x": {"datum": 409}, "y": {"datum": -0.86}, "y2": {"datum": 5.14}}
        },
        {
          "data": {"values": [{"label": "100 ms"}]},
          "mark": {"type": "rule", "color": "black", "strokeWidth": 1.2},
          "encoding": {"x": {"datum": 309}, "x2": {"datum": 409}, "y": {"datum": -0.86}}
        },
        {
          "data": {"values": [{"label": "artifact"}]},
          "mark": {"type": "rule", "color": "black", "strokeWidth": 2.5},
          "encoding": {"x": {"datum": -3.5}, "x2": {"datum": 0}, "y": {"datum": -0.2}}
        },
        {
          "data": {"values": [{"label": "Acidosis", "t": 209, "i": 4.14}]},
          "mark": {"type": "text", "fontSize": 16, "align": "center", "baseline": "middle"},
          "encoding": {"x": {"field": "t", "type": "quantitative"}, "y": {"field": "i", "type": "quantitative"}, "text": {"field": "label"}}
        },
        {
          "data": {"values": [{"label": "6", "t": 439, "i": 2.84}, {"label": "pA/pF", "t": 439, "i": 1.98}, {"label": "100 ms", "t": 359, "i": -1.42}]},
          "mark": {"type": "text", "fontSize": 12, "align": "center", "baseline": "middle"},
          "encoding": {"x": {"field": "t", "type": "quantitative"}, "y": {"field": "i", "type": "quantitative"}, "text": {"field": "label"}}
        }
      ]
    }
  ]
}
